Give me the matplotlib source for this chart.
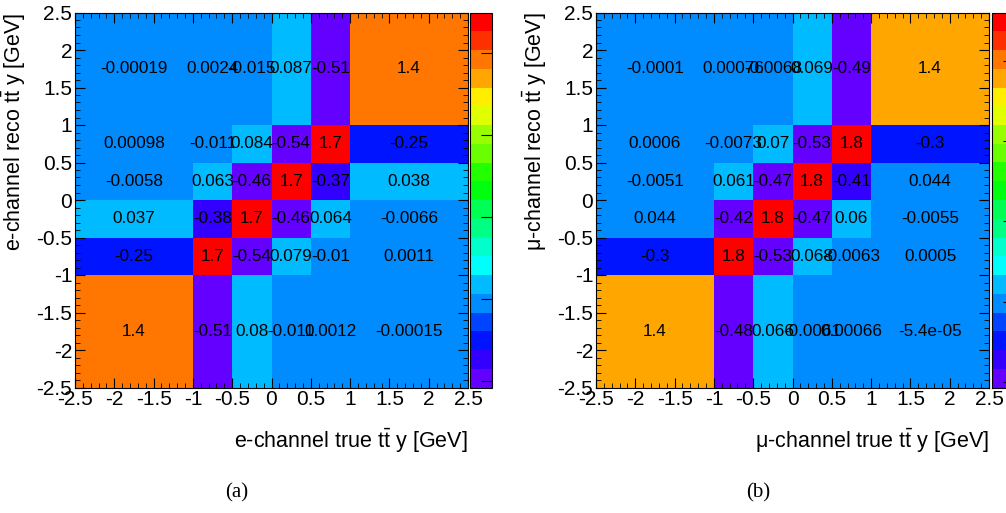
import colorsys
import numpy as np
import matplotlib
matplotlib.use("Agg")
import matplotlib.pyplot as plt
from matplotlib.colors import ListedColormap, BoundaryNorm
from matplotlib.ticker import MultipleLocator, NullFormatter

plt.rcParams['font.family'] = ['Liberation Sans', 'DejaVu Sans']
plt.rcParams['mathtext.fontset'] = 'custom'
plt.rcParams['mathtext.rm'] = 'Liberation Sans'

# bin edges (same for true and reco)
edges = [-2.5, -1, -0.5, 0, 0.5, 1, 2.5]

# correlation matrices, rows listed from top (reco y high) to bottom
e_rows = [
    [-0.00019, 0.0024, -0.015, 0.087, -0.51, 1.41],
    [0.00098, -0.011, 0.084, -0.54, 1.7, -0.25],
    [-0.0058, 0.063, -0.46, 1.7, -0.37, 0.038],
    [0.037, -0.38, 1.7, -0.46, 0.064, -0.0066],
    [-0.25, 1.7, -0.54, 0.079, -0.01, 0.0011],
    [1.41, -0.51, 0.08, -0.011, 0.0012, -0.00015],
]
mu_rows = [
    [-0.0001, 0.00076, -0.0068, 0.069, -0.49, 1.4],
    [0.0006, -0.0073, 0.07, -0.53, 1.8, -0.3],
    [-0.0051, 0.061, -0.47, 1.8, -0.41, 0.044],
    [0.044, -0.42, 1.8, -0.47, 0.06, -0.0055],
    [-0.3, 1.8, -0.53, 0.068, -0.0063, 0.0005],
    [1.4, -0.48, 0.066, -0.0061, 0.00066, -5.4e-05],
]
# z range of the palettes
e_zrange = (-0.541, 1.746)
mu_zrange = (-0.534, 1.80)
cbar_ticks = [-0.5, 0, 0.5, 1, 1.5]

panels = [
    ("e", e_rows, e_zrange, "(a)"),
    (u"\u03bc", mu_rows, mu_zrange, "(b)"),
]

# ROOT "pretty" palette (50 hues violet->red), sampled for 20 contours
ncol, ndiv = 50, 20
cols = []
for k in range(ndiv):
    j = int((k + 0.99) * ncol / ndiv)
    hue = 280 - (j + 1) * 280.0 / ncol
    cols.append(colorsys.hls_to_rgb(hue / 360.0, 0.5, 1.0))
cmap = ListedColormap(cols)

W, H = 1006, 513
fig = plt.figure(figsize=(W / 100, H / 100), dpi=100)

ax_x = [75, 596]
cb_x = [470, 992]
for i, (ch, rows, zr, tag) in enumerate(panels):
    ax = fig.add_axes([ax_x[i] / W, 125.5 / H, 393 / W, 375 / H])
    cax = fig.add_axes([cb_x[i] / W, 125.5 / H, 22 / W, 375 / H])

    z = np.flipud(np.array(rows))
    norm = BoundaryNorm(np.linspace(zr[0], zr[1], ndiv + 1), ndiv)
    mesh = ax.pcolormesh(edges, edges, z, cmap=cmap, norm=norm)

    centers = [(edges[n] + edges[n + 1]) / 2 for n in range(len(edges) - 1)]
    for r, yc in enumerate(centers):
        for c, xc in enumerate(centers):
            ax.text(xc, yc, f"{z[r, c]:.2g}", ha="center", va="center",
                    fontsize=12.3, color="black")

    ax.set_xlim(-2.5, 2.5)
    ax.set_ylim(-2.5, 2.5)
    ax.xaxis.set_major_locator(MultipleLocator(0.5))
    ax.yaxis.set_major_locator(MultipleLocator(0.5))
    ax.xaxis.set_minor_locator(MultipleLocator(0.1))
    ax.yaxis.set_minor_locator(MultipleLocator(0.1))
    ax.xaxis.set_major_formatter(lambda v, p: f"{v:g}")
    ax.yaxis.set_major_formatter(lambda v, p: f"{v:g}")
    ax.tick_params(which="both", direction="in", top=True, right=True,
                   labelsize=15, pad=2)
    ax.tick_params(which="major", length=7)
    ax.tick_params(which="minor", length=3.5)

    lab = u"channel true $\\mathrm{t\\bar{t}}$ y [GeV]"
    ax.set_xlabel(ch + "-" + lab, fontsize=15.5, loc="right")
    ax.xaxis.set_label_coords(1.0, -0.105)
    ax.set_ylabel(ch + u"-channel reco $\\mathrm{t\\bar{t}}$ y [GeV]",
                  fontsize=15.5, loc="top")
    ax.yaxis.set_label_coords(-0.12, 1.0)

    cb = fig.colorbar(mesh, cax=cax)
    cb.set_ticks(cbar_ticks)
    cb.ax.yaxis.set_major_formatter(NullFormatter())
    cb.ax.tick_params(direction="in", length=8, right=True, left=False)
    cb.ax.minorticks_off()

    fig.text((ax_x[i] + 162) / W, 20 / H, tag, ha="center", va="center",
             fontsize=15, family=["Liberation Serif", "DejaVu Serif"])

fig.savefig("out.png", dpi=100)
